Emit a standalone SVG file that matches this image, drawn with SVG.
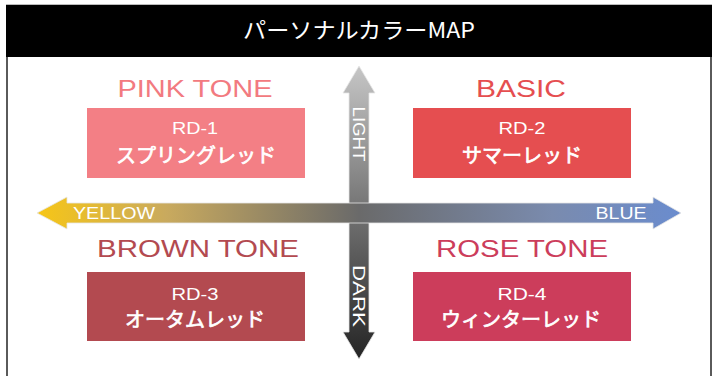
<svg xmlns="http://www.w3.org/2000/svg" width="717" height="376" viewBox="0 0 717 376">
<defs>
<linearGradient id="hgrad" x1="37" y1="0" x2="681" y2="0" gradientUnits="userSpaceOnUse">
<stop offset="0" stop-color="#F7C616"/>
<stop offset="0.2" stop-color="#C9AA5E"/>
<stop offset="0.5" stop-color="#6A6A6A"/>
<stop offset="0.8" stop-color="#7A8BAE"/>
<stop offset="1" stop-color="#6A8CCE"/>
</linearGradient>
<linearGradient id="vgrad" x1="0" y1="66" x2="0" y2="359" gradientUnits="userSpaceOnUse">
<stop offset="0" stop-color="#C6C6C6"/>
<stop offset="0.5" stop-color="#727272"/>
<stop offset="1" stop-color="#252525"/>
</linearGradient>
<style>
.tone{font-family:"Liberation Sans","Noto Sans",sans-serif;font-size:24.5px;text-anchor:middle}
.code{font-family:"Liberation Sans","Noto Sans",sans-serif;font-size:16.5px;fill:#fff;text-anchor:middle}
.jp{font-family:"Liberation Sans","Noto Sans CJK JP",sans-serif;font-size:20px;font-weight:normal;fill:#fff;text-anchor:middle;stroke:#fff;stroke-width:0.7}
.axis{font-family:"Liberation Sans","Noto Sans",sans-serif;font-size:16px;fill:#fff;text-anchor:middle}
</style>
</defs>
<rect x="7" y="5" width="704" height="380" fill="#fff" stroke="#5a5a5a" stroke-width="2"/>
<rect x="6" y="4" width="706" height="53" fill="#000"/>
<line x1="6" y1="4.5" x2="712" y2="4.5" stroke="#bbb" stroke-width="1"/>
<text x="359" y="38" font-family="'Noto Sans CJK JP',sans-serif" font-size="22" fill="#fff" text-anchor="middle" textLength="232" lengthAdjust="spacingAndGlyphs">パーソナルカラーMAP</text>

<g id="connectors">
<path id="vaxis" d="M359,66 L375,93 L369,93 L369,332 L375,332 L359,359 L343,332 L349,332 L349,93 L343,93 Z" fill="url(#vgrad)" stroke="#e6e6e6" stroke-width="0.8"/>
<path id="haxis" d="M37,213 L67,197 L67,203 L653,203 L653,197 L681,213 L653,229 L653,223 L67,223 L67,229 Z" fill="url(#hgrad)" stroke="#e6e6e6" stroke-width="0.8"/>
<text class="axis" transform="translate(359,134) rotate(90)" y="6" textLength="55" lengthAdjust="spacingAndGlyphs">LIGHT</text>
<text class="axis" transform="translate(359,296) rotate(90)" y="6" textLength="62" lengthAdjust="spacingAndGlyphs">DARK</text>
<text class="axis" x="114" y="219" textLength="82" lengthAdjust="spacingAndGlyphs">YELLOW</text>
<text class="axis" x="621" y="219" textLength="51" lengthAdjust="spacingAndGlyphs">BLUE</text>
</g>

<g id="pink">
<text class="tone" x="195" y="97" fill="#F27A80" textLength="155" lengthAdjust="spacingAndGlyphs">PINK TONE</text>
<rect x="87" y="108" width="218" height="70" fill="#F37F85"/>
<text class="code" x="195" y="134" textLength="46" lengthAdjust="spacingAndGlyphs">RD-1</text>
<text class="jp" x="196" y="163">スプリングレッド</text>
</g>

<g id="basic">
<text class="tone" x="521" y="97" fill="#E54E50" textLength="90" lengthAdjust="spacingAndGlyphs">BASIC</text>
<rect x="413" y="108" width="218" height="70" fill="#E54E50"/>
<text class="code" x="522" y="134" textLength="47" lengthAdjust="spacingAndGlyphs">RD-2</text>
<text class="jp" x="522" y="163">サマーレッド</text>
</g>

<g id="brown">
<text class="tone" x="198" y="257" fill="#B34A50" textLength="202" lengthAdjust="spacingAndGlyphs">BROWN TONE</text>
<rect x="87" y="272" width="218" height="69" fill="#B34A50"/>
<text class="code" x="195" y="300" textLength="47" lengthAdjust="spacingAndGlyphs">RD-3</text>
<text class="jp" x="195" y="327">オータムレッド</text>
</g>

<g id="rose">
<text class="tone" x="522" y="257" fill="#CC3D5B" textLength="172" lengthAdjust="spacingAndGlyphs">ROSE TONE</text>
<rect x="413" y="272" width="218" height="69" fill="#CC3D5B"/>
<text class="code" x="522" y="300" textLength="49" lengthAdjust="spacingAndGlyphs">RD-4</text>
<text class="jp" x="521" y="327">ウィンターレッド</text>
</g>
</svg>
